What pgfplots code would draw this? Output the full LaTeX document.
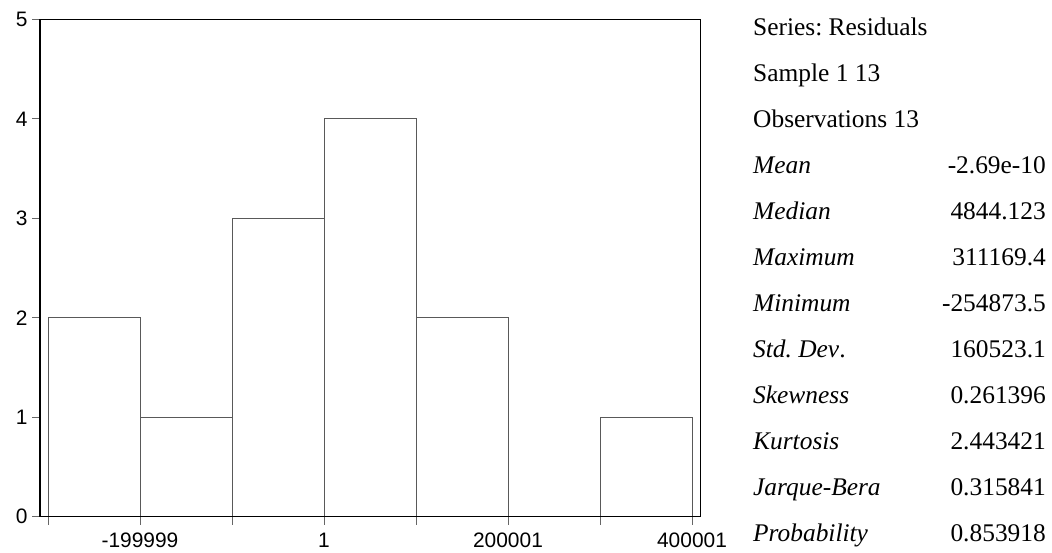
\documentclass[border=0pt]{standalone}
\usepackage{pgfplots}
\pgfplotsset{compat=1.18}
\usepackage{fontspec}
\setmainfont{Liberation Serif}
\newfontfamily\arial{Liberation Sans}
\frenchspacing
\begin{document}
\begin{tikzpicture}[x=1bp,y=1bp]
\useasboundingbox (0,0) rectangle (1052,-553);
\begin{axis}[
  at={(40bp,-516.7bp)}, anchor=south west,
  scale only axis, width=660.7bp, height=497.2bp,
  xmin=-308695, xmax=409460, ymin=0, ymax=5,
  xtick={-199999,1,200001,400001},
  xticklabels={-199999,1,200001,400001},
  minor xtick={-299999,-99999,100001,300001},
  ytick={0,1,2,3,4,5},
  yticklabels={0,1,2,3,4,5},
  tick align=outside, xtick pos=bottom, ytick pos=left,
  major tick length=8bp, minor tick length=8bp,
  every tick/.style={black!60, line width=0.9bp},
  minor tick style={black!60, line width=0.9bp},
  axis line style={black, line width=1.3bp},
  ticklabel style={font=\arial\fontsize{21}{24}\selectfont},
  xticklabel style={yshift=-5bp, text depth=0pt},
  yticklabel style={xshift=-1bp},
  axis on top,
]
\addplot[ybar interval, draw=black!65, line width=0.9bp, fill=none] coordinates {
  (-299999,2) (-199999,1) (-99999,3) (1,4) (100001,2) (200001,0) (300001,1) (400001,1)};
\end{axis}
\begin{scope}[every node/.style={inner sep=0pt, font=\fontsize{25.5}{30}\selectfont}]
\node[anchor=base west] at (753,-35.7) {Series: Residuals};
\node[anchor=base west] at (753,-81.7) {Sample 1 13};
\node[anchor=base west] at (753,-127.7) {Observations 13};
\node[anchor=base west] at (753,-173.7) {\itshape Mean};
\node[anchor=base east] at (1046,-173.7) {-2.69e-10};
\node[anchor=base west] at (753,-219.7) {\itshape Median};
\node[anchor=base east] at (1046,-219.7) {4844.123};
\node[anchor=base west] at (753,-265.7) {\itshape Maximum};
\node[anchor=base east] at (1046,-265.7) {311169.4};
\node[anchor=base west] at (753,-311.7) {\itshape Minimum};
\node[anchor=base east] at (1046,-311.7) {-254873.5};
\node[anchor=base west] at (753,-357.7) {\itshape Std. Dev\upshape.};
\node[anchor=base east] at (1046,-357.7) {160523.1};
\node[anchor=base west] at (753,-403.7) {\itshape Skewness};
\node[anchor=base east] at (1046,-403.7) {0.261396};
\node[anchor=base west] at (753,-449.7) {\itshape Kurtosis};
\node[anchor=base east] at (1046,-449.7) {2.443421};
\node[anchor=base west] at (753,-495.7) {\itshape Jarque-Bera};
\node[anchor=base east] at (1046,-495.7) {0.315841};
\node[anchor=base west] at (753,-541.7) {\itshape Probability};
\node[anchor=base east] at (1046,-541.7) {0.853918};
\end{scope}
\end{tikzpicture}
\end{document}
